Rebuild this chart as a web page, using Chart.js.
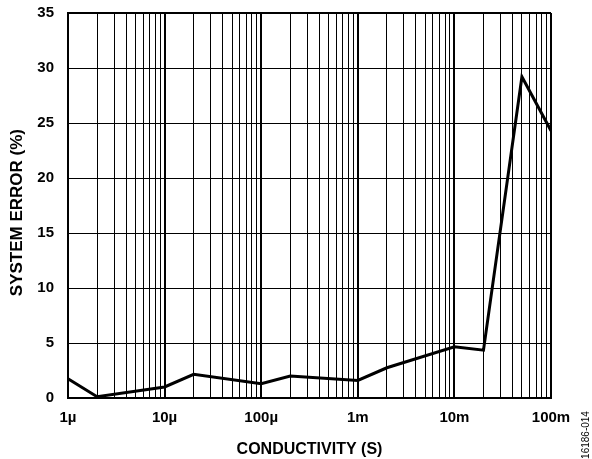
<!DOCTYPE html>
<html>
<head>
<meta charset="utf-8">
<script src="https://cdn.jsdelivr.net/npm/chart.js@4/dist/chart.umd.min.js"></script>
<style>
html,body{margin:0;padding:0;background:#fff;}
canvas{display:block;}
</style>
</head>
<body>
<canvas id="c" width="592" height="459"></canvas>
<script>
// Data
const conductivity = [1e-6, 2e-6, 1e-5, 2e-5, 1e-4, 2e-4, 1e-3, 2e-3, 1e-2, 2e-2, 5e-2, 1e-1];
const systemError  = [1.75, 0.12, 1.0, 2.15, 1.3, 2.0, 1.6, 2.75, 4.65, 4.35, 29.2, 24.3];
const decadeValues = [1e-6, 1e-5, 1e-4, 1e-3, 1e-2, 1e-1];
const tickLabels   = ['1µ', '10µ', '100µ', '1m', '10m', '100m'];
const yTicks       = [0, 5, 10, 15, 20, 25, 30, 35];

const points = conductivity.map((x, i) => ({ x: x, y: systemError[i] }));

// all grid positions: 1..9 × each decade, plus last decade
const xTickValues = [];
for (let d = 0; d < decadeValues.length - 1; d++) {
  for (let m = 1; m <= 9; m++) {
    xTickValues.push(Number((m * decadeValues[d]).toPrecision(3)));
  }
}
xTickValues.push(decadeValues[decadeValues.length - 1]);

const fontFamily = '"Liberation Sans", Arial, sans-serif';

const footnote = {
  id: 'footnote',
  afterDraw(chart) {
    const ctx = chart.ctx;
    ctx.save();
    ctx.translate(586, 435);
    ctx.rotate(-Math.PI / 2);
    ctx.font = '10px ' + fontFamily;
    ctx.fillStyle = '#000';
    ctx.textAlign = 'center';
    ctx.textBaseline = 'middle';
    ctx.fillText('16186-014', 0, 0);
    ctx.restore();
  }
};

new Chart(document.getElementById('c'), {
  type: 'line',
  data: {
    datasets: [{
      data: points,
      borderColor: '#000',
      borderWidth: 3,
      pointRadius: 0,
      tension: 0,
      fill: false
    }]
  },
  options: {
    responsive: false,
    animation: false,
    layout: { padding: { left: 0, right: 41, top: 13, bottom: 0 } },
    plugins: { legend: { display: false }, tooltip: { enabled: false } },
    scales: {
      x: {
        type: 'logarithmic',
        min: decadeValues[0],
        max: decadeValues[decadeValues.length - 1],
        afterBuildTicks(scale) {
          scale.ticks = xTickValues.map(v => ({ value: v }));
        },
        afterFit(scale) { scale.height = 61; scale.paddingLeft = 0; scale.paddingRight = 0; },
        ticks: {
          autoSkip: false,
          maxRotation: 0,
          minRotation: 0,
          padding: 11,
          color: '#000',
          font: { family: fontFamily, size: 15, weight: 'bold' },
          callback: (v, i) => (i % 9 === 0 ? tickLabels[i / 9] : '')
        },
        grid: {
          color: '#000',
          drawTicks: false,
          lineWidth: ctx => (ctx.index % 9 === 0 ? 2 : 1)
        },
        border: { color: '#000', width: 2 },
        title: {
          display: true,
          text: 'CONDUCTIVITY (S)',
          color: '#000',
          font: { family: fontFamily, size: 16, weight: 'bold' },
          padding: { top: 0, bottom: 0 }
        }
      },
      y: {
        type: 'linear',
        min: 0,
        max: 35,
        afterBuildTicks(scale) {
          scale.ticks = yTicks.map(v => ({ value: v }));
        },
        afterFit(scale) { scale.width = 68; scale.paddingTop = 0; scale.paddingBottom = 0; },
        ticks: {
          padding: 14,
          color: '#000',
          font: { family: fontFamily, size: 15, weight: 'bold' }
        },
        grid: {
          color: '#000',
          drawTicks: false,
          lineWidth: ctx => (ctx.tick && ctx.tick.value === 35 ? 2 : 1)
        },
        border: { color: '#000', width: 2 },
        title: {
          display: true,
          text: 'SYSTEM ERROR (%)   ',
          color: '#000',
          font: { family: fontFamily, size: 17, weight: 'bold' },
          padding: { top: 7, bottom: 0 }
        }
      }
    }
  },
  plugins: [footnote]
});
</script>
</body>
</html>
